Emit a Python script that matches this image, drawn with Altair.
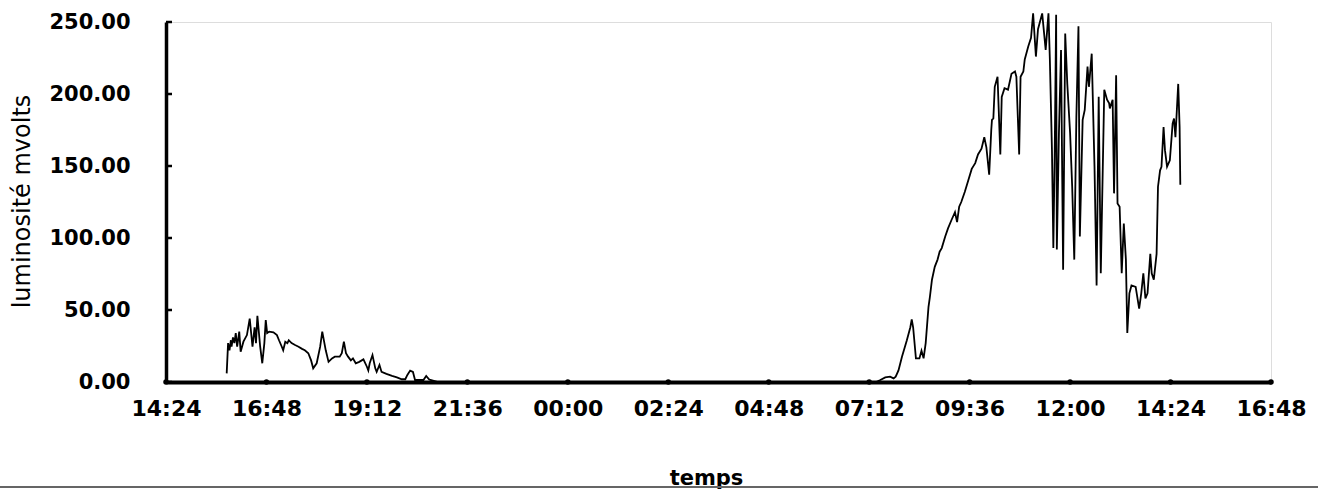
import altair as alt
import pandas as pd

# elapsed minutes since 14:24 (day 1) and luminosity in mV
evening_min = [87, 89, 91, 93, 94, 96, 98, 100, 102, 105, 107, 111, 116, 120, 124, 127, 129, 131,
               135, 138, 141, 143, 145, 148, 154, 159, 162, 166, 168, 171, 174, 176, 180, 185,
               190, 195, 199, 204, 208, 211, 216, 221, 224, 229, 233, 238, 242, 249, 252, 255,
               258, 261, 265, 268, 272, 277, 283, 288, 290, 292, 296, 300, 302, 306, 309, 316,
               324, 331, 338, 343, 346, 350, 354, 357, 364, 369, 373, 377, 379]
evening_val = [6, 27, 22, 29, 24.5, 31, 27, 34, 24.5, 35, 21, 28, 32.6, 44, 24.5, 38, 27, 46,
               24.5, 13, 27, 43, 34, 35, 34.5, 32.6, 29, 24.5, 22, 28, 27, 29, 27, 25.7,
               24.5, 23, 22, 20, 15, 9.5, 13, 24.5, 35, 22, 14, 16.4, 17.6, 17.6, 20, 28,
               20, 17.6, 15, 16.4, 13, 14, 15.7, 10.6, 8, 13, 18.7, 9.5, 7, 11.8, 7, 5.6,
               4.2, 3.2, 1.9, 1.9, 4.9, 7.9, 7, 1.4, 1.4, 1.4, 4.2, 1.9, 1.4]
night_min = [390, 500, 600, 700, 800, 900, 1000, 1018]
night_val = [0, 0, 0, 0, 0, 0, 0, 0]
day_min = [1024, 1031, 1038, 1043, 1046, 1050, 1055, 1062, 1067, 1069, 1071, 1075, 1080, 1083,
           1086, 1089, 1093, 1095, 1098, 1102, 1106, 1109, 1112, 1117, 1121, 1126, 1131, 1134,
           1137, 1140, 1145, 1150, 1155, 1160, 1164, 1169, 1173, 1176, 1180, 1183, 1184, 1186,
           1188, 1192, 1196, 1198, 1202, 1207, 1212, 1217, 1219, 1223, 1225, 1229, 1231, 1236,
           1240, 1243, 1247, 1250, 1256, 1261, 1265, 1267, 1270, 1272, 1274, 1276, 1277, 1280,
           1283, 1286, 1289, 1292, 1296, 1299, 1302, 1305, 1308, 1310, 1314, 1317, 1321, 1323,
           1327, 1331, 1334, 1337, 1340, 1345, 1349, 1352, 1353, 1357, 1359, 1362, 1364, 1367,
           1370, 1373, 1376, 1378, 1381, 1384, 1390, 1395, 1398, 1401, 1404, 1407, 1411, 1413,
           1416, 1420, 1422, 1425, 1427, 1430, 1432, 1435, 1439, 1443, 1445, 1447, 1451, 1453,
           1454]
day_val = [1.4, 3.2, 3.7, 2.5, 3.7, 8, 17.6, 29, 38, 43.5, 38, 16.4, 16.4, 21.7,
           16.4, 27, 52, 59, 71, 80, 85, 90.5, 93, 101, 106.7, 112.5, 118, 111,
           121.7, 125, 132, 140, 148, 152, 158, 162, 170, 163, 144, 175, 182, 183,
           205, 212, 158, 198, 204, 203, 214, 215.6, 212, 158, 212, 215.6, 224, 233,
           239, 256, 226, 245, 256, 230.6, 256, 224, 161, 93, 161, 255, 92, 173,
           230.6, 78, 242, 207, 173, 135.6, 85, 184, 247, 101, 182, 189, 219, 205,
           228, 149.5, 67, 198, 75.5, 203, 196, 193.5, 190, 196, 131, 213, 124, 121.7,
           75.5, 110, 85, 34, 61.6, 67, 66, 51, 61.6, 75.5, 58, 61.6, 89, 75.5,
           71, 89, 135.6, 147, 149.5, 177, 161, 149.5, 154, 179.6, 183, 170, 207, 177,
           137]

x_ticks = [0, 144, 288, 432, 576, 720, 864, 1008, 1152, 1296, 1440, 1584]
y_ticks = [0, 50, 100, 150, 200, 250]

df = pd.DataFrame({
    "t": evening_min + night_min + day_min,
    "v": evening_val + night_val + day_val,
})
xt = pd.DataFrame({"t": x_ticks, "v": [0] * len(x_ticks)})
yt = pd.DataFrame({"v": y_ticks})

FONT = "DejaVu Sans"
label_expr = ("format(floor(((datum.value + 864) % 1440) / 60), '02d') + ':' + "
              "format((datum.value + 864) % 60, '02d')")

xscale = alt.Scale(domain=[0, 1584], nice=False, zero=False)
yscale = alt.Scale(domain=[0, 250], nice=False)

line = alt.Chart(df).mark_line(color="black", strokeWidth=1.8).encode(
    x=alt.X("t:Q", scale=xscale, axis=alt.Axis(
        values=x_ticks, labelExpr=label_expr, ticks=False, grid=False,
        domainColor="black", domainWidth=4, labelFont=FONT, labelFontWeight="bold",
        labelFontSize=22, labelColor="black", labelPadding=16,
        labelFlush=False, labelOverlap=False, labelBound=False,
        title="temps", titleFont=FONT, titleFontWeight="bold", titleFontSize=21,
        titleColor="black", titleX=540, titleY=102, titleBaseline="alphabetic",
        titleAlign="center")),
    y=alt.Y("v:Q", scale=yscale, axis=alt.Axis(
        values=y_ticks, format=".2f", ticks=False, grid=False,
        domainColor="black", domainWidth=3.5, labelFont=FONT, labelFontWeight="bold",
        labelFontSize=21, labelColor="black", labelPadding=36, labelFlush=False,
        labelOverlap=False,
        title="luminosité mvolts", titleFont=FONT, titleFontWeight="normal",
        titleFontSize=24, titleColor="black", titleX=-144, titleY=179,
        titleAngle=270, titleAlign="center", titleBaseline="middle")),
)

xdots = alt.Chart(xt).mark_circle(color="black", size=30, opacity=1).encode(
    x=alt.X("t:Q", scale=xscale), y=alt.Y("v:Q", scale=yscale))

yticks = alt.Chart(yt).mark_rule(color="black", strokeWidth=2.5).encode(
    x=alt.value(0), x2=alt.value(6), y=alt.Y("v:Q", scale=yscale))

page_line = alt.Chart(yt).mark_rule(color="#666666", strokeWidth=1.5).encode(
    x=alt.value(-166), x2=alt.value(1152), y=alt.value(465))

chart = alt.layer(line, xdots, yticks, page_line).properties(
    width=1105, height=360,
    autosize=alt.AutoSizeParams(type="none"),
    padding={"left": 166, "top": 22, "right": 47, "bottom": 108},
).configure_view(stroke=None).configure(background="white")

chart.save("out.html", embed_options={"renderer": "svg", "actions": False})
